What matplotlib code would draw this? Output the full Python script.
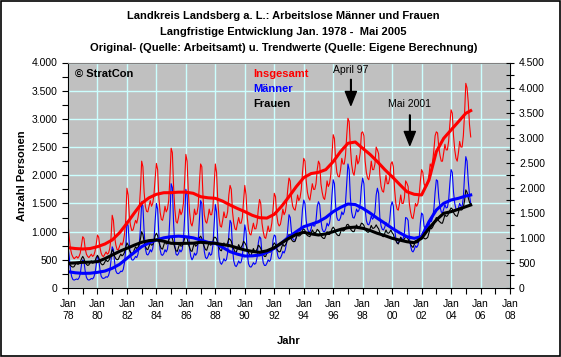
import numpy as np
import matplotlib.pyplot as plt
from matplotlib.ticker import MultipleLocator, FuncFormatter
from matplotlib.patches import Rectangle

plt.rcParams['font.family'] = ['Liberation Sans', 'DejaVu Sans']

# monthly values, Jan 1978 - May 2005
insgesamt = [
    1150, 900, 700, 600, 550, 520, 540, 560, 530, 560, 620, 760,        # 1978
    910, 880, 700, 600, 560, 540, 570, 600, 560, 580, 650, 780,         # 1979
    940, 900, 720, 620, 570, 560, 600, 640, 600, 620, 700, 880,         # 1980
    1290, 1200, 900, 760, 680, 680, 740, 800, 760, 820, 950, 1200,      # 1981
    1770, 1650, 1250, 1100, 1020, 1030, 1120, 1200, 1150, 1250, 1400, 1750,  # 1982
    2250, 2150, 1700, 1450, 1360, 1350, 1450, 1550, 1450, 1500, 1650, 1950,  # 1983
    2210, 2100, 1600, 1350, 1220, 1200, 1300, 1450, 1350, 1400, 1550, 1950,  # 1984
    2480, 2400, 1800, 1400, 1180, 1150, 1250, 1400, 1300, 1350, 1500, 1900,  # 1985
    2370, 2250, 1700, 1350, 1150, 1100, 1200, 1400, 1300, 1320, 1450, 1850,  # 1986
    2200, 2150, 1600, 1300, 1180, 1150, 1250, 1400, 1300, 1300, 1420, 1800,  # 1987
    2200, 2050, 1550, 1250, 1100, 1080, 1200, 1350, 1250, 1250, 1350, 1650,  # 1988
    1820, 1750, 1350, 1150, 1050, 1030, 1150, 1250, 1150, 1150, 1250, 1550,  # 1989
    1820, 1650, 1250, 1050, 960, 940, 1050, 1150, 1050, 1050, 1150, 1400,    # 1990
    1570, 1500, 1150, 1000, 900, 880, 980, 1100, 1000, 1020, 1150, 1400,     # 1991
    1680, 1620, 1300, 1150, 1100, 1130, 1250, 1400, 1300, 1350, 1500, 1750,  # 1992
    1950, 1900, 1600, 1450, 1400, 1380, 1500, 1650, 1550, 1600, 1750, 2050,  # 1993
    2300, 2250, 1900, 1700, 1600, 1560, 1700, 1850, 1750, 1750, 1850, 2100,  # 1994
    2250, 2200, 1850, 1700, 1600, 1570, 1700, 1900, 1800, 1850, 2000, 2350,  # 1995
    2720, 2650, 2250, 2050, 1980, 1970, 2100, 2300, 2200, 2200, 2350, 2700,  # 1996
    3010, 2950, 2500, 2200, 2050, 2000, 2150, 2350, 2200, 2250, 2400, 2750,  # 1997
    2770, 2700, 2250, 2050, 1950, 1920, 2050, 2250, 2100, 2100, 2200, 2500,  # 1998
    2450, 2380, 2000, 1800, 1720, 1700, 1850, 2000, 1850, 1850, 1950, 2200,  # 1999
    2240, 2150, 1750, 1500, 1400, 1380, 1500, 1650, 1500, 1500, 1600, 1900,  # 2000
    1860, 1800, 1500, 1350, 1250, 1230, 1350, 1500, 1450, 1500, 1650, 1900,  # 2001
    2100, 2050, 1850, 1800, 1800, 1850, 2000, 2200, 2150, 2250, 2450, 2700,  # 2002
    2770, 2750, 2500, 2350, 2250, 2250, 2400, 2550, 2450, 2450, 2600, 2900,  # 2003
    3160, 3100, 2700, 2450, 2300, 2250, 2400, 2600, 2500, 2500, 2700, 3100,  # 2004
    3630, 3550, 3300, 2900, 2680,                                            # 2005
]

maenner = [
    720, 560, 320, 200, 150, 140, 150, 160, 150, 180, 250, 420,
    500, 470, 300, 190, 150, 140, 150, 170, 160, 190, 260, 420,
    570, 520, 330, 210, 175, 170, 180, 200, 190, 220, 300, 480,
    730, 680, 450, 300, 260, 255, 270, 300, 290, 330, 450, 680,
    1180, 1100, 750, 560, 500, 495, 520, 560, 540, 600, 760, 1050,
    1530, 1450, 1000, 700, 600, 585, 620, 680, 640, 700, 850, 1200,
    1500, 1400, 950, 680, 590, 580, 610, 680, 640, 690, 850, 1250,
    1850, 1780, 1150, 750, 600, 580, 610, 680, 640, 680, 850, 1250,
    1750, 1650, 1050, 700, 560, 500, 540, 620, 580, 620, 800, 1200,
    1550, 1500, 950, 650, 540, 520, 560, 630, 580, 600, 750, 1100,
    1480, 1350, 850, 560, 450, 420, 460, 520, 480, 500, 620, 950,
    1200, 1150, 700, 480, 400, 380, 420, 480, 440, 460, 560, 850,
    1120, 1000, 620, 430, 380, 370, 400, 450, 420, 440, 540, 800,
    910, 880, 600, 450, 400, 400, 440, 500, 470, 500, 620, 850,
    940, 920, 680, 560, 520, 530, 580, 650, 620, 680, 800, 1050,
    1300, 1250, 1000, 880, 850, 850, 900, 980, 950, 1000, 1100, 1400,
    1560, 1500, 1200, 1050, 1000, 990, 1050, 1150, 1100, 1100, 1200, 1450,
    1530, 1480, 1200, 1050, 1000, 1000, 1050, 1150, 1100, 1150, 1300, 1650,
    1920, 1850, 1450, 1250, 1200, 1200, 1250, 1350, 1300, 1350, 1500, 1850,
    2200, 2100, 1600, 1350, 1250, 1240, 1300, 1400, 1350, 1380, 1500, 1800,
    1950, 1850, 1400, 1200, 1130, 1120, 1180, 1280, 1220, 1250, 1350, 1650,
    1770, 1680, 1250, 1100, 1040, 1030, 1080, 1160, 1100, 1100, 1200, 1450,
    1530, 1450, 1050, 880, 800, 790, 830, 900, 860, 880, 980, 1250,
    1240, 1200, 900, 750, 660, 640, 680, 750, 720, 760, 870, 1150,
    1330, 1300, 1100, 1050, 1030, 1040, 1100, 1200, 1180, 1250, 1400, 1700,
    1920, 1900, 1600, 1450, 1350, 1330, 1400, 1480, 1420, 1430, 1550, 1850,
    2100, 2050, 1700, 1500, 1400, 1380, 1420, 1500, 1450, 1450, 1600, 2000,
    2330, 2250, 1900, 1650, 1500,
]

frauen = [
    430, 420, 400, 380, 370, 380, 420, 450, 420, 430, 460, 520,
    560, 520, 450, 420, 400, 410, 450, 480, 440, 450, 480, 540,
    580, 540, 470, 430, 410, 420, 460, 500, 470, 480, 520, 600,
    680, 640, 560, 520, 500, 510, 560, 600, 570, 590, 630, 720,
    800, 760, 670, 630, 610, 620, 680, 730, 700, 720, 770, 870,
    1000, 950, 820, 740, 690, 680, 740, 800, 760, 770, 830, 930,
    970, 930, 820, 750, 700, 690, 760, 830, 780, 790, 840, 920,
    910, 880, 790, 720, 660, 650, 720, 790, 740, 750, 800, 880,
    910, 880, 780, 720, 660, 650, 730, 800, 740, 760, 800, 890,
    920, 880, 790, 730, 680, 670, 740, 810, 760, 770, 820, 900,
    900, 870, 780, 720, 670, 660, 740, 800, 750, 760, 800, 880,
    860, 830, 740, 690, 640, 630, 700, 770, 720, 720, 760, 830,
    800, 760, 680, 630, 580, 570, 640, 700, 650, 650, 690, 760,
    740, 700, 640, 600, 560, 560, 620, 680, 640, 640, 680, 760,
    800, 770, 700, 660, 640, 650, 720, 780, 740, 760, 800, 880,
    950, 920, 860, 830, 820, 830, 900, 950, 920, 930, 960, 1030,
    1050, 1020, 960, 930, 920, 910, 970, 1030, 990, 980, 990, 1040,
    1020, 990, 930, 900, 880, 880, 940, 1000, 950, 950, 980, 1050,
    1080, 1050, 980, 950, 930, 930, 990, 1060, 1010, 1020, 1050, 1120,
    1130, 1100, 1050, 1020, 1000, 1000, 1060, 1120, 1080, 1080, 1100, 1150,
    1140, 1110, 1040, 1010, 990, 990, 1050, 1110, 1060, 1060, 1080, 1120,
    1080, 1050, 980, 950, 920, 910, 970, 1030, 980, 970, 990, 1030,
    980, 950, 880, 840, 800, 780, 840, 900, 850, 850, 870, 910,
    900, 870, 820, 780, 740, 720, 770, 840, 800, 810, 840, 900,
    940, 920, 880, 870, 880, 900, 980, 1060, 1050, 1080, 1130, 1200,
    1250, 1230, 1190, 1170, 1150, 1150, 1220, 1300, 1270, 1280, 1320, 1380,
    1420, 1400, 1340, 1300, 1280, 1270, 1340, 1420, 1380, 1390, 1430, 1550,
    1740, 1700, 1600, 1520, 1480,
]

# trend values, every January and July (last point May 2005)
trend_zeit = [1978, 1978.5, 1979, 1979.5, 1980, 1980.5, 1981, 1981.5, 1982, 1982.5,
              1983, 1983.5, 1984, 1984.5, 1985, 1985.5, 1986, 1986.5, 1987, 1987.5,
              1988, 1988.5, 1989, 1989.5, 1990, 1990.5, 1991, 1991.5, 1992, 1992.5,
              1993, 1993.5, 1994, 1994.5, 1995, 1995.5, 1996, 1996.5, 1997, 1997.5,
              1998, 1998.5, 1999, 1999.5, 2000, 2000.5, 2001, 2001.5, 2002, 2002.5,
              2003, 2003.5, 2004, 2004.5, 2005, 2005 + 4 / 12]
trend_ges = [715, 700, 692, 700, 733, 780, 852, 980, 1148, 1330,
             1503, 1600, 1662, 1690, 1691, 1700, 1700, 1680, 1620, 1600,
             1591, 1540, 1472, 1410, 1354, 1290, 1247, 1240, 1307, 1450,
             1620, 1800, 1957, 2030, 2052, 2100, 2241, 2420, 2567, 2590,
             2478, 2370, 2241, 2100, 1974, 1840, 1708, 1662, 1650, 1916,
             2418, 2655, 2803, 2950, 3099, 3146]
trend_m = [289, 270, 260, 262, 278, 300, 349, 420, 527, 630,
           733, 800, 852, 890, 910, 920, 910, 890, 852, 810,
           793, 720, 644, 600, 567, 570, 585, 630, 704, 800,
           910, 1000, 1088, 1130, 1176, 1250, 1354, 1430, 1490, 1480,
           1414, 1330, 1236, 1150, 1059, 980, 910, 882, 910, 1176,
           1384, 1502, 1561, 1591, 1632, 1650]
trend_f = [438, 445, 456, 460, 467, 520, 585, 650, 704, 760,
           811, 840, 852, 830, 793, 790, 793, 795, 811, 800,
           793, 770, 750, 710, 674, 650, 633, 660, 715, 800,
           882, 950, 988, 960, 940, 960, 999, 1040, 1070, 1080,
           1059, 1020, 970, 930, 882, 850, 821, 804, 882, 1059,
           1206, 1325, 1354, 1396, 1442, 1472]

zeit = 1978 + np.arange(len(insgesamt)) / 12

fig = plt.figure(figsize=(5.61, 3.57), dpi=100)
fig.patches.append(Rectangle((0.001, 0.002), 0.997, 0.995, transform=fig.transFigure,
                             fill=False, edgecolor='black', linewidth=1.2))
ax = fig.add_axes([68 / 561, 69 / 357, 442 / 561, 225.5 / 357])
ax.set_facecolor('#C0C0C0')

ax.plot(zeit, insgesamt, color='#FF0000', lw=0.8)
ax.plot(zeit, maenner, color='#0000FF', lw=0.8)
ax.plot(zeit, frauen, color='black', lw=0.8)
ax.plot(trend_zeit, trend_ges, color='#FF0000', lw=2.2)
ax.plot(trend_zeit, trend_m, color='#0000FF', lw=2.2)
ax.plot(trend_zeit, trend_f, color='black', lw=2.2)

ax.set_xlim(1978, 2008)
ax.set_ylim(0, 4000)
ax.xaxis.set_major_locator(MultipleLocator(2))
ax.xaxis.set_minor_locator(MultipleLocator(1))
ax.xaxis.set_major_formatter(FuncFormatter(lambda v, p: 'Jan\n%02d' % (int(round(v)) % 100)))
ax.yaxis.set_major_locator(MultipleLocator(500))
ax.yaxis.set_minor_locator(MultipleLocator(250))
punkt = FuncFormatter(lambda v, p: f'{int(v):,}'.replace(',', '.'))
ax.yaxis.set_major_formatter(punkt)
ax.grid(True, which='major', color='#CCFFFF', lw=1)
ax.set_axisbelow(True)
ax.tick_params(which='both', labelsize=7.5, length=4, width=0.8, direction='out')
ax.tick_params(axis='x', pad=4)
ax.spines['top'].set_color('#808080')
ax.spines['right'].set_visible(False)

ax2 = ax.twinx()
ax2.set_ylim(0, 4500)
ax2.yaxis.set_major_locator(MultipleLocator(500))
ax2.yaxis.set_minor_locator(MultipleLocator(250))
ax2.yaxis.set_major_formatter(punkt)
ax2.tick_params(which='both', labelsize=7.5, length=6, width=0.8, direction='inout')
for s in ['top', 'left', 'bottom']:
    ax2.spines[s].set_visible(False)

ax.set_ylabel('Anzahl Personen', fontsize=8, fontweight='bold', labelpad=3)
ax.set_xlabel('Jahr', fontsize=8, fontweight='bold', labelpad=11)

fig.text(0.505, 1 - 16 / 357, 'Landkreis Landsberg a. L.: Arbeitslose Männer und Frauen',
         ha='center', va='center', fontsize=8, fontweight='bold')
fig.text(0.505, 1 - 32 / 357, 'Langfristige Entwicklung Jan. 1978 -  Mai 2005',
         ha='center', va='center', fontsize=8, fontweight='bold')
fig.text(0.505, 1 - 48 / 357, 'Original- (Quelle: Arbeitsamt) u. Trendwerte (Quelle: Eigene Berechnung)',
         ha='center', va='center', fontsize=8, fontweight='bold')

ax.text(1978.45, 3800, '© StratCon', fontsize=8, fontweight='bold', va='center')
ax.text(1990.55, 3800, 'Insgesamt', color='#FF0000', fontsize=8, fontweight='bold', va='center')
ax.text(1990.55, 3530, 'Männer', color='#0000FF', fontsize=8, fontweight='bold', va='center')
ax.text(1990.55, 3265, 'Frauen', color='black', fontsize=8, fontweight='bold', va='center')

pfeil = dict(facecolor='black', edgecolor='black', width=0.4, headwidth=8, headlength=10, shrink=0)
ax.annotate('', xy=(1997.2, 3240), xytext=(1997.2, 3700), arrowprops=pfeil)
ax.text(1997.2, 3870, 'April 97', fontsize=7.5, ha='center', va='center')
ax.annotate('', xy=(2001.2, 2530), xytext=(2001.2, 3070), arrowprops=pfeil)
ax.text(2001.2, 3265, 'Mai 2001', fontsize=7.5, ha='center', va='center')

plt.savefig('out.png', dpi=100)
